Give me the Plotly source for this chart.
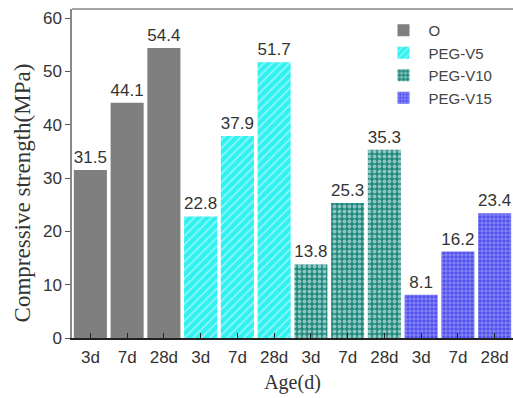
import plotly.graph_objects as go

ages = ["3d", "7d", "28d"]
groups = ["O", "PEG-V5", "PEG-V10", "PEG-V15"]
values = {
    "O": [31.5, 44.1, 54.4],
    "PEG-V5": [22.8, 37.9, 51.7],
    "PEG-V10": [13.8, 25.3, 35.3],
    "PEG-V15": [8.1, 16.2, 23.4],
}
tick_labels = ages * 4

styles = {
    "O": dict(color="#7f7f7f", pattern=dict(shape="")),
    "PEG-V5": dict(color="#30f0f0", pattern=dict(shape="/", fgcolor="white", bgcolor="#30f0f0", size=6, solidity=0.25)),
    "PEG-V10": dict(color="#1f8a80", pattern=dict(shape=".", fgcolor="white", bgcolor="#1f8a80", size=5, solidity=0.45)),
    "PEG-V15": dict(color="#5050f0", pattern=dict(shape="+", fgcolor="white", bgcolor="#5050f0", size=4, solidity=0.3)),
}

SANS = "Liberation Sans, Arial"
SERIF = "Liberation Serif, Times New Roman"

fig = go.Figure()
for gi, g in enumerate(groups):
    xs = [gi * 3 + i for i in range(3)]
    fig.add_trace(go.Bar(
        x=xs, y=values[g], name=g, width=0.9,
        marker=dict(color=styles[g]["color"], pattern=styles[g]["pattern"], line=dict(width=0)),
        text=[f"{v:.1f}" for v in values[g]], textposition="outside", cliponaxis=False,
        textfont=dict(family=SANS, size=17, color="#333333"),
    ))

fig.update_layout(
    width=513, height=398,
    margin=dict(l=72, r=0, t=9, b=60),
    plot_bgcolor="white", paper_bgcolor="white",
    showlegend=True,
    legend=dict(x=0.695, y=0.985, xanchor="left", yanchor="top", bgcolor="rgba(0,0,0,0)",
                font=dict(family=SANS, size=15, color="#444444"),
                tracegroupgap=0, itemwidth=40),
    xaxis=dict(range=[-0.5, 11.5], tickmode="array", tickvals=list(range(12)), ticktext=tick_labels,
               showline=True, linecolor="#222222", linewidth=1.5, ticks="inside", ticklen=5, tickcolor="#222222",
               showgrid=False, zeroline=False, ticklabelstandoff=3,
               tickfont=dict(family=SANS, size=17, color="#333333"),
               title=dict(text="Age(d)", font=dict(family=SERIF, size=20, color="#333333"), standoff=9)),
    yaxis=dict(range=[0, 61.7], tickvals=[0, 10, 20, 30, 40, 50, 60],
               showline=True, linecolor="#888888", linewidth=1.5, ticks="outside", ticklen=5, tickcolor="#555555",
               showgrid=False, zeroline=False,
               tickfont=dict(family=SANS, size=17, color="#333333")),
    barmode="overlay",
)
fig.add_annotation(text="Compressive strength(MPa)", textangle=-90, xref="paper", yref="paper",
                   x=-0.113, y=0.44, xanchor="center", yanchor="middle", showarrow=False,
                   font=dict(family=SERIF, size=23, color="#333333"))
fig.add_shape(type="line", xref="paper", yref="paper", x0=0, x1=1, y0=1, y1=1,
              line=dict(color="#888888", width=1.5))

fig.write_html("out.html", config={"displayModeBar": False},
               post_script="document.body.style.margin='0';document.body.style.overflow='hidden';")
